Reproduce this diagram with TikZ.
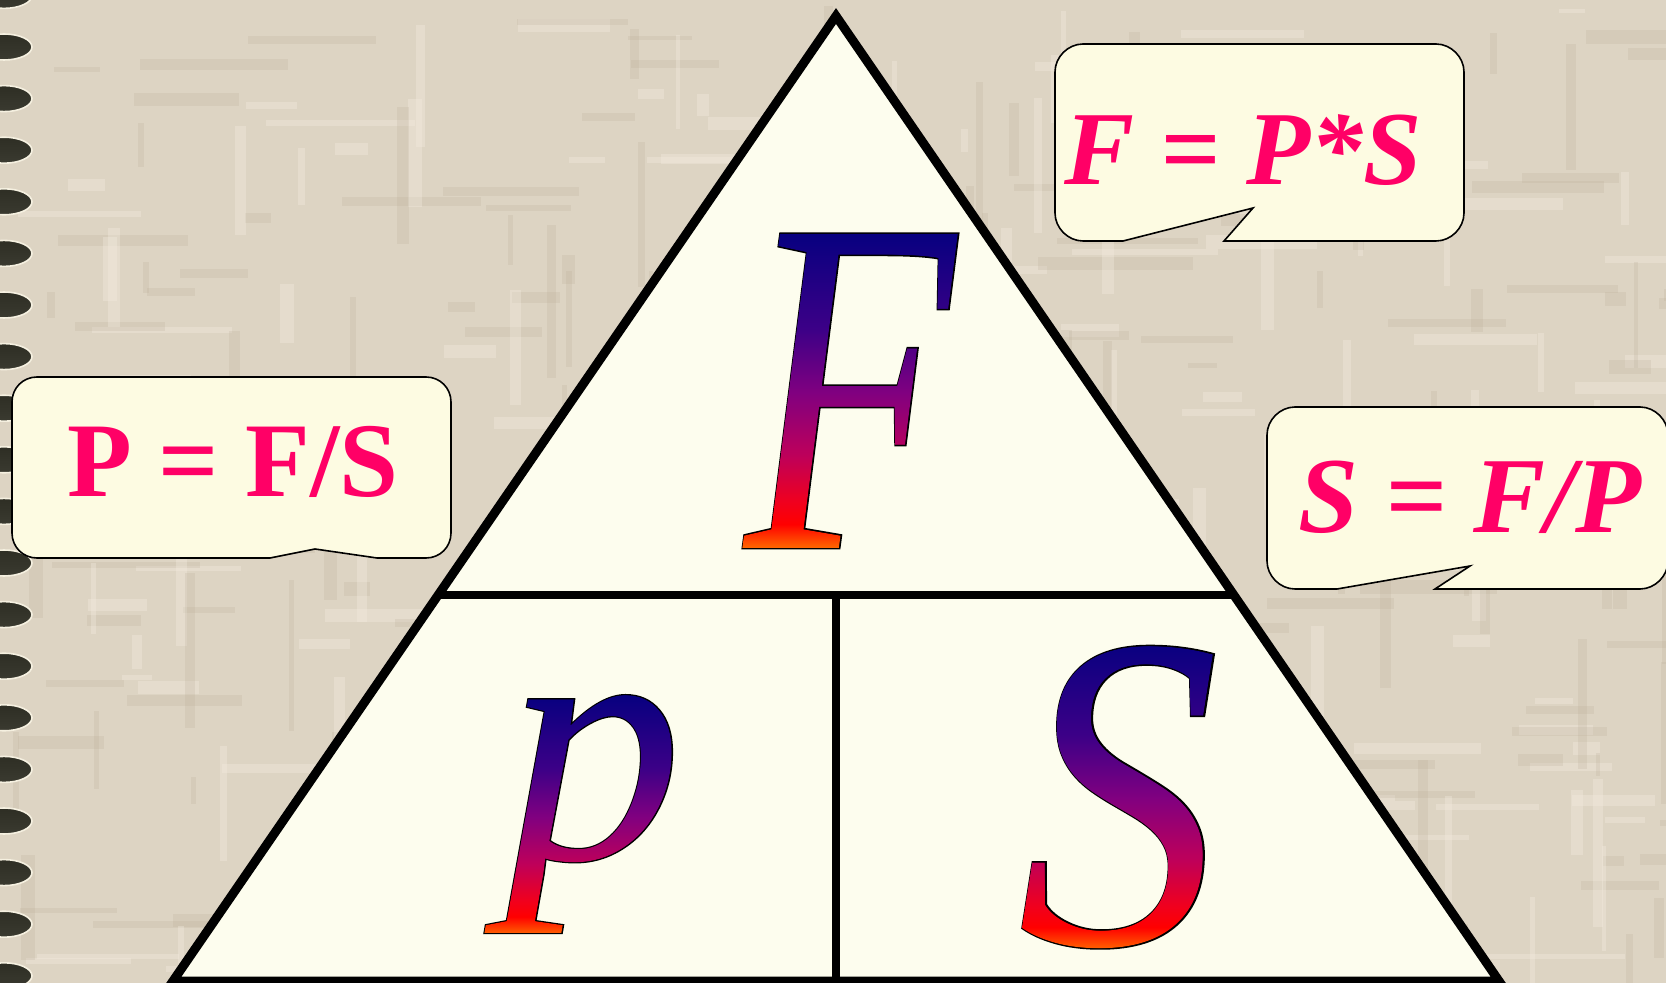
\documentclass[tikz,border=0pt]{standalone}
\usepackage{fontspec}
\setmainfont{Liberation Serif}
\newfontfamily\outlinefont{Liberation Serif Italic}[FakeBold=0.6]
\usetikzlibrary{fadings,calc}

\definecolor{bgbase}{RGB}{221,212,195}
\definecolor{bglight}{RGB}{244,237,224}
\definecolor{bgdark}{RGB}{186,174,153}
\definecolor{trifill}{RGB}{253,253,238}
\definecolor{callfill}{RGB}{253,251,226}
\definecolor{formula}{RGB}{255,0,102}
\definecolor{ringtop}{RGB}{46,46,36}
\definecolor{ringmid}{RGB}{112,112,84}
\definecolor{ringbot}{RGB}{58,58,48}
\definecolor{g0}{RGB}{8,0,128}
\definecolor{g30}{RGB}{60,0,135}
\definecolor{g50}{RGB}{128,0,128}
\definecolor{g70}{RGB}{190,0,90}
\definecolor{g85}{RGB}{240,0,30}
\definecolor{g92}{RGB}{255,0,0}
\definecolor{g100}{RGB}{255,110,0}

\pgfdeclareverticalshading{Fshade}{100bp}{color(0bp)=(g100); color(49.9bp)=(g100); color(51.8bp)=(g92); color(53.5bp)=(g85); color(57.0bp)=(g70); color(61.8bp)=(g50); color(66.6bp)=(g30); color(73.7bp)=(g0); color(100bp)=(g0)}
\pgfdeclareverticalshading{Pshade}{100bp}{color(0bp)=(g100); color(39.9bp)=(g100); color(42.4bp)=(g92); color(44.6bp)=(g85); color(49.4bp)=(g70); color(55.6bp)=(g50); color(61.9bp)=(g30); color(71.4bp)=(g0); color(100bp)=(g0)}
\pgfdeclareverticalshading{Sshade}{100bp}{color(0bp)=(g100); color(49.4bp)=(g100); color(51.3bp)=(g92); color(53.0bp)=(g85); color(56.6bp)=(g70); color(61.45bp)=(g50); color(66.3bp)=(g30); color(73.5bp)=(g0); color(100bp)=(g0)}

\newcommand{\bigFfont}{\fontsize{240}{240}\selectfont}
\newcommand{\bigPfont}{\fontsize{174}{174}\selectfont}
\newcommand{\bigSfont}{\fontsize{225}{225}\selectfont}

\begin{tikzfadingfrompicture}[name=Ffade]
  \path (-75pt,-165pt) rectangle (75pt,165pt);
  \node[text=transparent!0, inner sep=0pt, anchor=base, xscale=0.72, transform shape, font=\bigFfont\itshape] (fF) at (0,0) {F};
\end{tikzfadingfrompicture}
\begin{tikzfadingfrompicture}[name=Pfade]
  \path (-80pt,-95pt) rectangle (80pt,95pt);
  \node[text=transparent!0, inner sep=0pt, anchor=base, xscale=1.02, transform shape, font=\bigPfont\itshape] (fP) at (0,0) {p};
\end{tikzfadingfrompicture}
\begin{tikzfadingfrompicture}[name=Sfade]
  \path (-70pt,-160pt) rectangle (70pt,160pt);
  \node[text=transparent!0, inner sep=0pt, anchor=base, xscale=0.9, transform shape, font=\bigSfont\itshape] (fS) at (0,0) {S};
\end{tikzfadingfrompicture}

\tikzset{
  edge line/.style={line width=4.5pt, line join=miter, line cap=butt},
  inner line/.style={line width=3.8pt},
  callout/.style={fill=callfill, draw=black, line width=0.8pt, line join=miter},
  formula text/.style={text=formula, inner sep=0pt, anchor=base},
  letter outline/.style={text=black, inner sep=0pt, anchor=base, transform shape},
  ring/.style={top color=ringtop, middle color=ringmid, bottom color=ringbot, draw={rgb,255:red,245;green,240;blue,224}, line width=0.8pt},
}

\begin{document}
\begin{tikzpicture}[x=0.5pt, y=-0.5pt]
  % background
  \path[use as bounding box, fill=bgbase] (0,0) rectangle (1666,983);
  \pgfmathsetseed{12}
  \foreach \i in {1,...,110}{
    \pgfmathsetmacro{\bgx}{rnd*1666}
    \pgfmathsetmacro{\bgy}{rnd*983}
    \pgfmathsetmacro{\bgl}{20+rnd*140}
    \pgfmathsetmacro{\bgw}{4+rnd*10}
    \fill[bglight, opacity=0.35] (\bgx,\bgy) rectangle ++(\bgl,\bgw);
  }
  \foreach \i in {1,...,110}{
    \pgfmathsetmacro{\bgx}{rnd*1666}
    \pgfmathsetmacro{\bgy}{rnd*983}
    \pgfmathsetmacro{\bgl}{20+rnd*140}
    \pgfmathsetmacro{\bgw}{4+rnd*10}
    \fill[bgdark, opacity=0.22] (\bgx,\bgy) rectangle ++(\bgl,\bgw);
  }
  \foreach \i in {1,...,90}{
    \pgfmathsetmacro{\bgx}{rnd*1666}
    \pgfmathsetmacro{\bgy}{rnd*983}
    \pgfmathsetmacro{\bgl}{20+rnd*140}
    \pgfmathsetmacro{\bgw}{4+rnd*10}
    \fill[bglight, opacity=0.35] (\bgx,\bgy) rectangle ++(\bgw,\bgl);
  }
  \foreach \i in {1,...,90}{
    \pgfmathsetmacro{\bgx}{rnd*1666}
    \pgfmathsetmacro{\bgy}{rnd*983}
    \pgfmathsetmacro{\bgl}{20+rnd*140}
    \pgfmathsetmacro{\bgw}{4+rnd*10}
    \fill[bgdark, opacity=0.22] (\bgx,\bgy) rectangle ++(\bgw,\bgl);
  }

  % spiral binding
  \foreach \k in {-1,...,18}{
    \pgfmathsetmacro{\by}{47+51.6*\k}
    \shade[ring] (4,\by) ellipse [x radius=28, y radius=13];
  }

  % triangle
  \coordinate (apex) at (836,16);
  \coordinate (bl) at (173,981);
  \coordinate (br) at (1499,981);
  \coordinate (ml) at ($(apex)!0.6!(bl)$);
  \coordinate (mr) at ($(apex)!0.6!(br)$);
  \coordinate (mt) at (836,595);
  \coordinate (mb) at (836,981);
  \fill[trifill] (apex) -- (bl) -- (br) -- cycle;
  \draw[inner line] (ml) -- (mr);
  \draw[inner line] (mt) -- (mb);
  \draw[edge line] (apex) -- (bl) -- (br) -- cycle;

  % big letters: outline + gradient
  \node[letter outline, xscale=0.72, font=\bigFfont\outlinefont] (F) at (850,548) {F};
  \shade[shading=Fshade, path fading=Ffade, fit fading=false, fading transform={shift={(850,548)}}] (700,218) rectangle (1000,878);
  \node[letter outline, xscale=1.02, font=\bigPfont\outlinefont] (P) at (594,859) {p};
  \shade[shading=Pshade, path fading=Pfade, fit fading=false, fading transform={shift={(594,859)}}] (434,669) rectangle (754,1049);
  \node[letter outline, xscale=0.9, font=\bigSfont\outlinefont] (S) at (1119,944) {S};
  \shade[shading=Sshade, path fading=Sfade, fit fading=false, fading transform={shift={(1119,944)}}] (979,624) rectangle (1259,1264);

  % callouts
  \draw[callout] (270,558) -- (37,558) .. controls (23,558) and (12,547) .. (12,533) -- (12,402) .. controls (12,388) and (23,377) .. (37,377) -- (426,377) .. controls (440,377) and (451,388) .. (451,402) -- (451,533) .. controls (451,547) and (440,558) .. (426,558) -- (377,558) -- (315,549) -- cycle;
  \node[formula text, font=\fontsize{53}{53}\selectfont\bfseries] (pfs) at (233,497) {P = F/S};

  \draw[callout] (1123,241) -- (1083,241) .. controls (1068,241) and (1055,228) .. (1055,213) -- (1055,72) .. controls (1055,57) and (1068,44) .. (1083,44) -- (1436,44) .. controls (1451,44) and (1464,57) .. (1464,72) -- (1464,213) .. controls (1464,228) and (1451,241) .. (1436,241) -- (1224,241) -- (1253,208) -- cycle;
  \node[formula text, font=\fontsize{52.5}{52.5}\selectfont\bfseries\itshape] (fps) at (1243,185) {F = P*S};

  \draw[callout] (1337,589) -- (1295,589) .. controls (1280,589) and (1267,576) .. (1267,561) -- (1267,435) .. controls (1267,420) and (1280,407) .. (1295,407) -- (1640,407) .. controls (1655,407) and (1668,420) .. (1668,435) -- (1668,561) .. controls (1668,576) and (1655,589) .. (1640,589) -- (1435,589) -- (1470,566) -- cycle;
  \node[formula text, font=\fontsize{54}{54}\selectfont\bfseries\itshape] (sfp) at (1470,533) {S = F/P};
\end{tikzpicture}
\end{document}
